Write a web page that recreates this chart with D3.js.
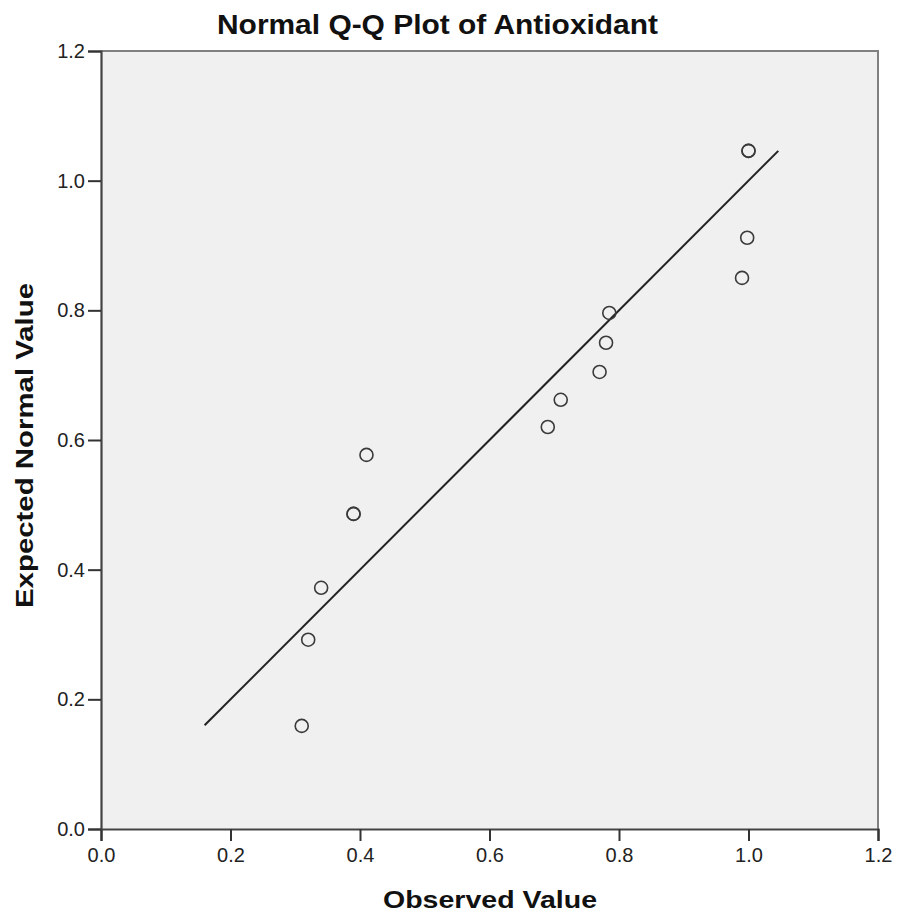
<!DOCTYPE html>
<html>
<head>
<meta charset="utf-8">
<script src="https://cdn.jsdelivr.net/npm/d3@7"></script>
<style>
  html, body { margin: 0; padding: 0; background: #ffffff; }
  svg { display: block; }
</style>
</head>
<body>
<script>
// ---- data ----
const title = "Normal Q-Q Plot of Antioxidant";
const xTitle = "Observed Value";
const yTitle = "Expected Normal Value";
const observed = [0.31, 0.32, 0.34, 0.39, 0.39, 0.41, 0.69, 0.71, 0.77, 0.78, 0.785, 0.99, 0.998, 1.00, 1.00];
const expected = [0.159, 0.292, 0.372, 0.486, 0.486, 0.577, 0.620, 0.662, 0.705, 0.750, 0.796, 0.850, 0.912, 1.046, 1.046];
const refLine = [0.16, 1.046];
const tickValues = [0.0, 0.2, 0.4, 0.6, 0.8, 1.0, 1.2];

// ---- layout ----
const W = 897, H = 916;
const L = 101, R = 878, T = 51, B = 829;
const FONT = "'Liberation Sans', Arial, sans-serif";

const svg = d3.select("body").append("svg").attr("width", W).attr("height", H);

const x = d3.scaleLinear().domain([0, 1.2]).range([L, R]);
const y = d3.scaleLinear().domain([0, 1.2]).range([B, T]);

// plot background
svg.append("rect").attr("x", L).attr("y", T).attr("width", R - L).attr("height", B - T)
  .attr("fill", "#f0f0f0");

// top & right border
svg.append("path")
  .attr("d", `M${L},${T}H${R}V${B}`)
  .attr("fill", "none").attr("stroke", "#808080").attr("stroke-width", 2);

// axes
const fmt = d3.format(".1f");
const xAxis = svg.append("g").attr("transform", `translate(0,${B})`)
  .call(d3.axisBottom(x).tickValues(tickValues).tickFormat(fmt).tickSizeOuter(0).tickSize(12).tickPadding(7));
const yAxis = svg.append("g").attr("transform", `translate(${L},0)`)
  .call(d3.axisLeft(y).tickValues(tickValues).tickFormat(fmt).tickSizeOuter(0).tickSize(13).tickPadding(3));

[xAxis, yAxis].forEach(g => {
  g.select(".domain").attr("stroke", "#444").attr("stroke-width", 2.2);
  g.selectAll(".tick line").attr("stroke", "#333").attr("stroke-width", 2);
  g.selectAll(".tick text").attr("fill", "#222")
    .style("font-family", FONT).style("font-size", "20px");
});

// reference line
svg.append("line")
  .attr("x1", x(refLine[0])).attr("y1", y(refLine[0]))
  .attr("x2", x(refLine[1])).attr("y2", y(refLine[1]))
  .attr("stroke", "#222").attr("stroke-width", 2);

// points
svg.append("g").selectAll("circle").data(observed.map((o, i) => [o, expected[i]]))
  .join("circle")
  .attr("cx", d => x(d[0])).attr("cy", d => y(d[1])).attr("r", 6.5)
  .attr("fill", "none").attr("stroke", "#3a3a3a").attr("stroke-width", 1.6);

// titles
svg.append("text").attr("x", 437.5).attr("y", 34).attr("text-anchor", "middle")
  .attr("textLength", 441).attr("lengthAdjust", "spacingAndGlyphs")
  .style("font-family", FONT).style("font-weight", "bold")
  .style("font-size", "27px").attr("fill", "#111").text(title);

svg.append("text").attr("x", 490).attr("y", 908).attr("text-anchor", "middle")
  .attr("textLength", 214).attr("lengthAdjust", "spacingAndGlyphs")
  .style("font-family", FONT).style("font-weight", "bold")
  .style("font-size", "24px").attr("fill", "#111").text(xTitle);

svg.append("text").attr("transform", `translate(33,445.5) rotate(-90)`).attr("text-anchor", "middle")
  .attr("textLength", 325).attr("lengthAdjust", "spacingAndGlyphs")
  .style("font-family", FONT).style("font-weight", "bold")
  .style("font-size", "24px").attr("fill", "#111").text(yTitle);
</script>
</body>
</html>
